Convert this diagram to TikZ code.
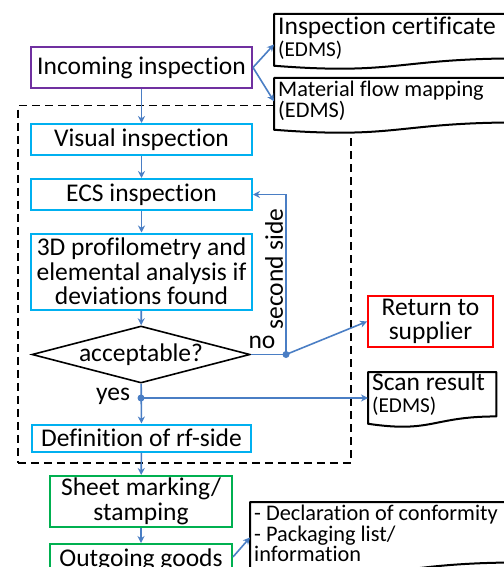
\documentclass[tikz,border=0pt]{standalone}
\usepackage{fontspec}
\setmainfont{Carlito}[Ligatures={NoCommon}]
\usetikzlibrary{arrows.meta,calc,shapes.geometric}

\definecolor{procblue}{HTML}{00B0F0}
\definecolor{procpurple}{HTML}{7030A0}
\definecolor{procgreen}{HTML}{00B050}
\definecolor{stopred}{HTML}{FF0000}
\definecolor{flowblue}{HTML}{4A7EC4}

\lineskiplimit=-20pt
\newcommand\bigtext{\fontsize{25.6}{24.5}\selectfont}
\newcommand\smalltext{\fontsize{21.3}{21}\selectfont}

% document symbol: straight top and sides, wavy bottom edge
\newcommand\docoutline[1]{%
  \draw[docline] (#1.north west) -- (#1.north east)
    -- ($(#1.north east)!0.802!(#1.south east)$)
    .. controls ($(#1.north)!0.802!(#1.south)$) and ($(#1.north)!1.1075!(#1.south)$)
    .. ($(#1.north west)!0.934!(#1.south west)$) -- cycle;}

\tikzset{
  procbox/.style={draw=#1, line width=2bp, fill=white, rectangle, inner sep=0pt,
    align=center, font=\bigtext},
  decision/.style={draw=black, line width=1.6bp, fill=white, diamond, inner sep=0pt,
    minimum width=218bp, minimum height=57bp, font=\bigtext},
  docframe/.style={rectangle, draw=none, inner sep=0pt, anchor=north west},
  docline/.style={draw=black, line width=2bp, fill=white, line join=round},
  doctext/.style={anchor=north west, align=left, inner sep=0pt},
  flow/.style={draw=flowblue, line width=1.6bp, -{Stealth[length=7bp,width=7bp]}},
  flowline/.style={draw=flowblue, line width=1.6bp},
  junction/.style={circle, fill=flowblue, inner sep=0pt, minimum size=7bp},
  groupframe/.style={draw=black, line width=1.5bp, dash pattern=on 8bp off 5bp,
    rectangle, inner sep=0pt, anchor=north west},
  flowlabel/.style={font=\bigtext, inner sep=0pt},
}

\begin{document}
\begin{tikzpicture}[x=1bp, y=-1bp]
  \clip (0,0) rectangle (504,567);

  % dashed frame around the inspection steps
  \node[groupframe, minimum width=333bp, minimum height=357bp] (grp) at (17,105) {};

  % process steps
  \node[procbox=procpurple, minimum width=221bp, minimum height=41bp] (inc) at (141.5,67.5) {Incoming inspection};
  \node[procbox=procblue, minimum width=221bp, minimum height=31bp] (vis) at (141.5,139.5) {Visual inspection};
  \node[procbox=procblue, minimum width=221bp, minimum height=31bp] (ecs) at (141.5,194.5) {ECS inspection};
  \node[procbox=procblue, minimum width=221bp, minimum height=76bp] (prof) at (141.5,271.5)
    {3D profilometry and\\elemental analysis if\\deviations found};
  \node[decision] (acc) at (141,354.5) {\makebox[0pt]{acceptable?}};
  \node[procbox=procblue, minimum width=219bp, minimum height=27bp] (def) at (141.5,438) {Definition of rf-side};
  \node[procbox=procgreen, minimum width=182bp, minimum height=51bp] (mark) at (141,501.5) {Sheet marking/\\stamping};
  \node[procbox=procgreen, minimum width=182bp, minimum height=32bp] (out) at (141,560) {Outgoing goods};
  \node[procbox=stopred, minimum width=125bp, minimum height=51bp] (ret) at (430.5,321.5) {Return to\\supplier};

  % documents
  \node[docframe, minimum width=245bp, minimum height=55bp] (cert) at (274,14) {};
  \docoutline{cert}
  \node[doctext, font=\fontsize{25.6}{22}\selectfont] (certtxt) at ($(cert.north west)+(4,3)$)
    {Inspection certificate\\{\smalltext (EDMS)}};

  \node[docframe, minimum width=245bp, minimum height=55bp] (mat) at (274,78) {};
  \docoutline{mat}
  \node[doctext, font=\fontsize{22.4}{21}\selectfont] (mattxt) at ($(mat.north west)+(4,3)$)
    {Material flow mapping\\(EDMS)};

  \node[docframe, minimum width=128bp, minimum height=55bp] (scan) at (368,372) {};
  \docoutline{scan}
  \node[doctext, font=\fontsize{25.6}{22}\selectfont] (scantxt) at ($(scan.north west)+(4,1)$)
    {Scan result\\{\smalltext (EDMS)}};

  \node[docframe, minimum width=270bp, minimum height=75bp] (decl) at (250,502) {};
  \docoutline{decl}
  \node[doctext, font=\fontsize{22.4}{20.5}\selectfont] (decltxt) at ($(decl.north west)+(4,3)$)
    {- Declaration of conformity\\- Packaging list/\\information};

  % main flow
  \draw[flow] (inc) -- (vis);
  \draw[flow] (vis) -- (ecs);
  \draw[flow] (ecs) -- (prof);
  \draw[flow] (prof) -- (acc);
  \draw[flow] (acc) -- (def);
  \draw[flow] (def) -- (mark);
  \draw[flow] (mark) -- (out);

  % documents produced
  \draw[flow] (inc.east) -- ($(cert.north west)!0.55!(cert.south west)$);
  \draw[flow] (inc.east) -- ($(mat.north west)!0.42!(mat.south west)$);
  \draw[flow] ($(out.north east)!0.41!(out.south east)$) -- ($(decl.north west)!0.47!(decl.south west)$);

  % decision branches
  \coordinate (nopt) at (286,354.5);
  \coordinate (yespt) at (141,398);
  \draw[flowline] (acc.east) -- (nopt);
  \draw[flow] (nopt) |- (ecs.east);
  \draw[flow] (nopt) -- (ret.west);
  \draw[flow] (yespt) -- (scan.west |- yespt);
  \node[junction] (nodot) at (nopt) {};
  \node[junction] (yesdot) at (yespt) {};

  \node[flowlabel] (nolbl) at (262,342) {no};
  \node[flowlabel] (yeslbl) at (113,396) {yes};
  \node[flowlabel, rotate=90] (sidelbl) at (274,269) {second side};
\end{tikzpicture}
\end{document}
